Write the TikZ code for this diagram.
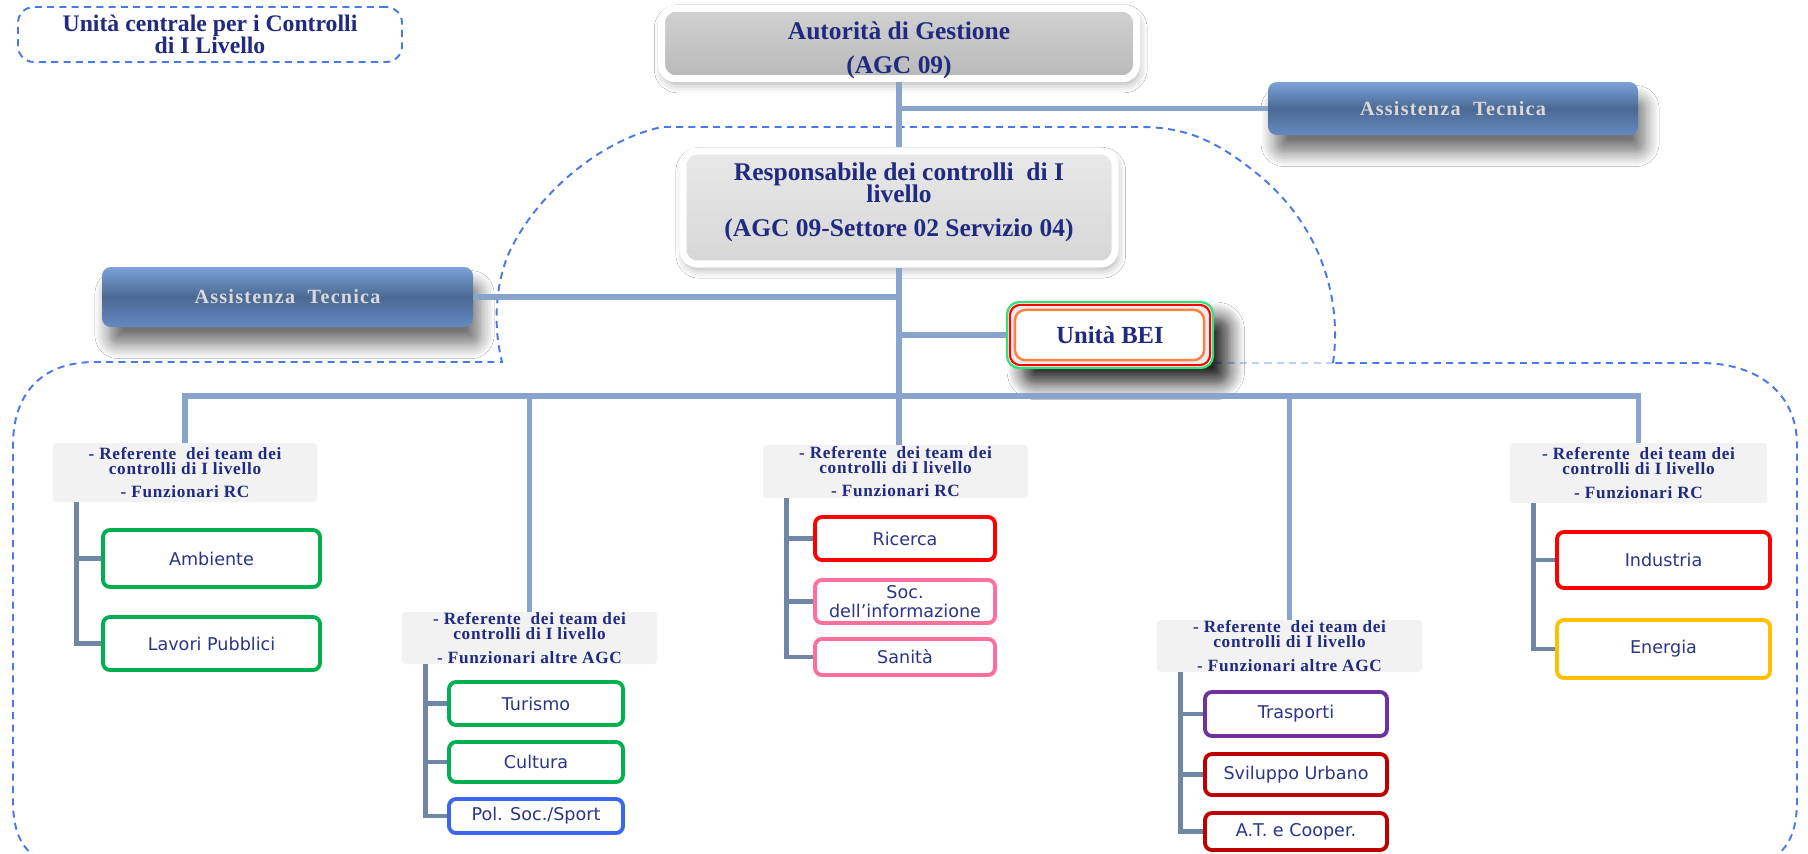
\documentclass[tikz,border=0pt]{standalone}
\usepackage{fontspec}
\setmainfont{Liberation Serif}
\newfontfamily\sansbox{DejaVu Sans}
\usetikzlibrary{shadows,shadows.blur}
\definecolor{navy}{HTML}{1F2A80}
\definecolor{trunkblue}{HTML}{88A3CC}
\definecolor{branchgray}{HTML}{7086A6}
\definecolor{dashblue}{HTML}{4A78E8}
\definecolor{boxgreen}{HTML}{00B050}
\definecolor{boxred}{HTML}{FF0000}
\definecolor{boxpink}{HTML}{FF6F9C}
\definecolor{boxblue}{HTML}{3A66F0}
\definecolor{boxpurple}{HTML}{7030A0}
\definecolor{boxdarkred}{HTML}{C00000}
\definecolor{boxyellow}{HTML}{FFC000}
\definecolor{refgray}{HTML}{F2F2F2}
\definecolor{childtext}{HTML}{2B3585}
\definecolor{beigreen}{HTML}{33E07A}
\definecolor{beiorange}{HTML}{FF8040}
\newcommand{\refRC}{- Referente\ \ dei team dei\\controlli di I livello\\[5pt]- Funzionari RC}
\newcommand{\refAGC}{- Referente\ \ dei team dei\\controlli di I livello\\[5pt]- Funzionari altre AGC}

\begin{document}
\begin{tikzpicture}[x=0.02cm,y=-0.02cm,
    boxsize/.style 2 args={minimum width=#1*0.02cm,minimum height=#2*0.02cm,inner sep=0pt},
    trunk/.style={draw=trunkblue,line width=3pt},
    branch/.style={draw=branchgray,line width=2.6pt},
    outline/.style={draw=dashblue,line width=1.1pt,dash pattern=on 4pt off 3pt},
    headbox/.style={rounded corners=8pt,draw=white,line width=4pt,align=center,text=navy,
      font=\fontsize{14.5}{18}\selectfont\bfseries,
      blur shadow={shadow xshift=1pt,shadow yshift=-3pt,shadow blur radius=5pt,shadow opacity=35}},
    techbox/.style={rounded corners=5pt,top color=techtop,bottom color=techbot,middle color=techmid,
      text=black!15,font=\fontsize{11.5}{13}\selectfont\bfseries\addfontfeature{LetterSpace=6},
      blur shadow={shadow xshift=4pt,shadow yshift=-10pt,shadow blur radius=8pt,shadow blur steps=10,shadow opacity=55}},
    refbox/.style={fill=refgray,rounded corners=2pt,align=center,text=navy,
      font=\fontsize{9.8}{8.5}\selectfont\bfseries\addfontfeature{LetterSpace=4}},
    child/.style={draw=#1,line width=2.2pt,rounded corners=4pt,fill=white,align=center,
      text=childtext,font=\sansbox\fontsize{10}{10.5}\selectfont}]
  \definecolor{techtop}{HTML}{7CA2D8}\definecolor{techmid}{HTML}{4B6994}\definecolor{techbot}{HTML}{6589C0}
  \fill[white] (0,0) rectangle (1808,853);
  \useasboundingbox (0,0) rectangle (1808,853);
  \clip (0,0) rectangle (1808,853);
  % dashed area of the unit
  \draw[outline] (1333,363) .. controls (1342,300) and (1322,225) .. (1255,172)
    .. controls (1215,140) and (1185,127) .. (1140,127) -- (662,127)
    .. controls (600,140) and (535,195) .. (508,255) .. controls (494,290) and (494,330) .. (502,362)
    -- (95,362) .. controls (40,362) and (13,395) .. (13,445) -- (13,800)
    .. controls (13,845) and (30,865) .. (80,872) -- (1730,872)
    .. controls (1780,865) and (1797,845) .. (1797,800) -- (1797,445)
    .. controls (1797,395) and (1760,363) .. (1700,363) -- cycle;
  \draw[outline,draw opacity=.35] (1333,363) -- (1213,363);
  \node[outline,rounded corners=9pt,boxsize={384}{55},align=center,text=navy,
    font=\fontsize{13.5}{12.5}\selectfont\bfseries] (unit) at (210,34.5) {Unità centrale per i Controlli\\di I Livello};

  % top of the tree
  \node[headbox,top color=gray!36,bottom color=gray!55,boxsize={475}{67}] (agc) at (899,43.5)
    {\rule{0pt}{18pt}Autorità di Gestione\\[1pt](AGC 09)};
  \node[headbox,top color=gray!18,bottom color=gray!32,boxsize={432}{113}] (resp) at (899,207.5)
    {Responsabile dei controlli\ \ di I\\[-5.5pt]livello\\[1.5pt](AGC 09-Settore 02 Servizio 04)\rule[-9pt]{0pt}{0pt}};
  \node[techbox,boxsize={370}{53}] (atR) at (1453,108.5) {Assistenza\ \ Tecnica};
  \node[techbox,boxsize={371}{60}] (atL) at (287.5,297) {Assistenza\ \ Tecnica};
  \node[draw=beigreen,line width=1.3pt,rounded corners=7pt,fill=white,boxsize={206}{66},
    blur shadow={shadow xshift=9pt,shadow yshift=-9pt,shadow blur radius=9pt,shadow blur steps=10,shadow opacity=85}] (bei) at (1110,335) {};
  \draw[boxred,fill=gray!15,line width=1.2pt,rounded corners=6pt] ([shift={(4,4)}]bei.north west) rectangle ([shift={(-4,-4)}]bei.south east);
  \draw[beiorange,fill=white,line width=1.4pt,rounded corners=6pt] ([shift={(9,9)}]bei.north west) rectangle ([shift={(-10,-9)}]bei.south east);
  \node[text=navy,font=\fontsize{14}{16}\selectfont\bfseries] (beitext) at (bei.center) {Unità BEI};

  % referenti
  \node[refbox,boxsize={264}{59}] (refA) at (185,472.5) {\refRC};
  \node[refbox,boxsize={255}{52}] (refB) at (529.5,638) {\refAGC};
  \node[refbox,boxsize={265}{53}] (refC) at (895.5,471.5) {\refRC};
  \node[refbox,boxsize={265}{52}] (refD) at (1289.5,646) {\refAGC};
  \node[refbox,boxsize={257}{60}] (refE) at (1638.5,473) {\refRC};

  % settori
  \node[child=boxgreen,boxsize={217}{57}] (A1) at (211.5,558.5) {Ambiente};
  \node[child=boxgreen,boxsize={217}{53}] (A2) at (211.5,643.5) {Lavori Pubblici};
  \node[child=boxgreen,boxsize={174}{43}] (B1) at (536,703.5) {Turismo};
  \node[child=boxgreen,boxsize={174}{40}] (B2) at (536,762) {Cultura};
  \node[child=boxblue,boxsize={174}{34}] (B3) at (536,816) {Pol. Soc./Sport};
  \node[child=boxred,boxsize={180}{43}] (C1) at (905,538.5) {Ricerca};
  \node[child=boxpink,boxsize={180}{43}] (C2) at (905,601.5) {Soc.\\dell’informazione};
  \node[child=boxpink,boxsize={180}{36}] (C3) at (905,657) {Sanità};
  \node[child=boxpurple,boxsize={182}{44}] (D1) at (1296,714) {Trasporti};
  \node[child=boxdarkred,boxsize={182}{41}] (D2) at (1296,774.5) {Sviluppo Urbano};
  \node[child=boxdarkred,boxsize={182}{37}] (D3) at (1296,831.5) {A.T. e Cooper.};
  \node[child=boxred,boxsize={213}{56}] (E1) at (1663.5,560) {Industria};
  \node[child=boxyellow,boxsize={213}{58}] (E2) at (1663.5,649) {Energia};

  % connectors
  \draw[trunk] (agc.south) -- (resp.north);
  \draw[trunk] (agc.south |- atR.west) -- (atR.west);
  \draw[trunk] (resp.south) -- (resp.south |- refC.north);
  \draw[trunk] (atL.east) -- (atL.east -| resp.south);
  \draw[trunk] (resp.south |- bei.west) -- (bei.west);
  \coordinate (bus) at (0,396);
  \draw[trunk] (refA.north) -- (refA.north |- bus) -- (refE.north |- bus) -- (refE.north);
  \foreach \r in {refB,refD} \draw[trunk] (\r.north |- bus) -- (\r.north);
  \foreach \r/\c in {refA/A1,refA/A2,refB/B1,refB/B2,refB/B3,refC/C1,refC/C2,refC/C3,
    refD/D1,refD/D2,refD/D3,refE/E1,refE/E2}
    \draw[branch] (\r.south west) ++(24,0) |- (\c.west);
\end{tikzpicture}
\end{document}
